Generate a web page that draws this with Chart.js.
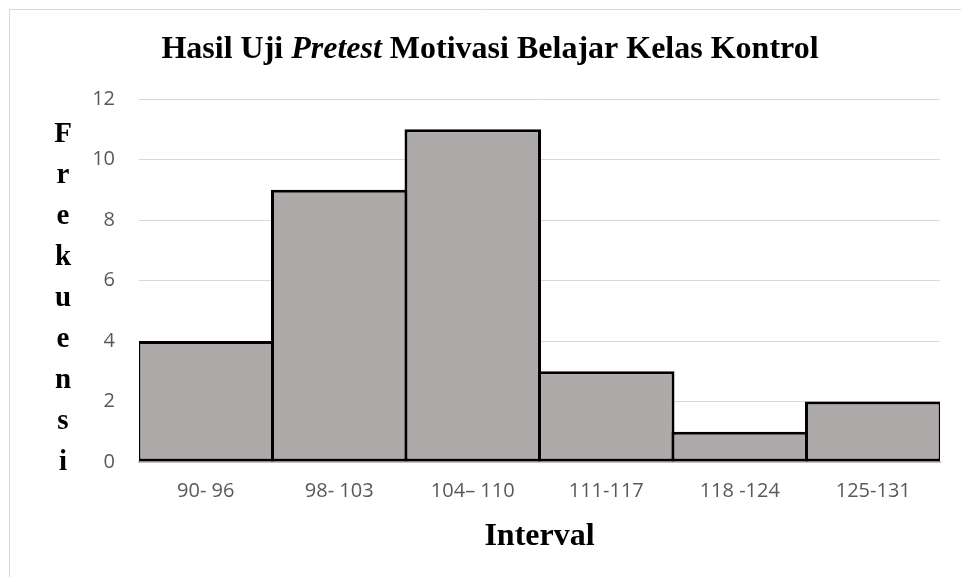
<!DOCTYPE html>
<html>
<head>
<meta charset="utf-8">
<script src="https://cdn.jsdelivr.net/npm/chart.js@4"></script>
<style>
  html, body { margin: 0; padding: 0; background: #ffffff; }
  #wrap { position: relative; width: 961px; height: 577px; }
</style>
</head>
<body>
<div id="wrap"><canvas id="c" width="961" height="577"></canvas></div>
<script>
const categories = ["90- 96", "98- 103", "104\u2013 110", "111-117", "118 -124", "125-131"];
const frequencies = [4, 9, 11, 3, 1, 2];
const titleParts = [
  { text: "Hasil Uji ", italic: false },
  { text: "Pretest", italic: true },
  { text: " Motivasi Belajar Kelas Kontrol", italic: false }
];
const yAxisTitle = "Frekuensi";
const xAxisTitle = "Interval";
const yMin = 0, yMax = 12, yStep = 2;

const SERIF = '"Liberation Serif", "Times New Roman", serif';
const SANS = '"Open Sans", "Liberation Sans", sans-serif';

const decor = {
  id: 'decor',
  beforeDraw(chart) {
    const ctx = chart.ctx;
    ctx.save();
    ctx.strokeStyle = '#d9d9d9';
    ctx.lineWidth = 1;
    ctx.beginPath();
    ctx.moveTo(9.5, 577);
    ctx.lineTo(9.5, 9.5);
    ctx.lineTo(961, 9.5);
    ctx.stroke();
    ctx.restore();
  },
  afterDraw(chart) {
    const ctx = chart.ctx;
    const area = chart.chartArea;
    ctx.save();
    ctx.fillStyle = '#000000';
    ctx.textBaseline = 'alphabetic';
    // Title
    const size = 32;
    let total = 0;
    const widths = titleParts.map(p => {
      ctx.font = (p.italic ? 'italic ' : '') + 'bold ' + size + 'px ' + SERIF;
      const w = ctx.measureText(p.text).width;
      total += w;
      return w;
    });
    let x = 490 - total / 2;
    titleParts.forEach((p, i) => {
      ctx.font = (p.italic ? 'italic ' : '') + 'bold ' + size + 'px ' + SERIF;
      ctx.textAlign = 'left';
      ctx.fillText(p.text, x, 58);
      x += widths[i];
    });
    // Y axis title stacked letters
    ctx.font = 'bold 29px ' + SERIF;
    ctx.textAlign = 'center';
    yAxisTitle.split('').forEach((ch, i) => {
      ctx.fillText(ch, 63, 142 + i * 41);
    });
    // X axis title
    ctx.font = 'bold 32px ' + SERIF;
    ctx.textAlign = 'center';
    ctx.fillText(xAxisTitle, (area.left + area.right) / 2, 545);
    ctx.restore();
  }
};

new Chart(document.getElementById('c'), {
  type: 'bar',
  data: {
    labels: categories,
    datasets: [{
      data: frequencies,
      backgroundColor: '#aeaaaa',
      borderColor: '#000000',
      borderWidth: 3,
      borderSkipped: false,
      categoryPercentage: 1.0,
      barPercentage: 1.0225
    }]
  },
  options: {
    responsive: false,
    animation: false,
    devicePixelRatio: 1,
    layout: { padding: { left: 0, right: 21, top: 99, bottom: 0 } },
    plugins: {
      legend: { display: false },
      title: { display: false },
      tooltip: { enabled: false }
    },
    scales: {
      x: {
        grid: { display: false, drawTicks: false },
        border: { display: true, color: '#bfbfbf', width: 2 },
        ticks: {
          color: '#595959',
          font: { family: SANS, size: 20 },
          padding: 17,
          maxRotation: 0
        },
        afterFit(scale) { scale.height = 115; }
      },
      y: {
        min: yMin,
        max: yMax,
        grid: { color: '#d9d9d9', lineWidth: 1, drawTicks: false },
        border: { display: false },
        ticks: {
          stepSize: yStep,
          color: '#595959',
          font: { family: SANS, size: 20 },
          padding: 24
        },
        afterFit(scale) { scale.width = 139; }
      }
    }
  },
  plugins: [decor]
});
</script>
</body>
</html>
